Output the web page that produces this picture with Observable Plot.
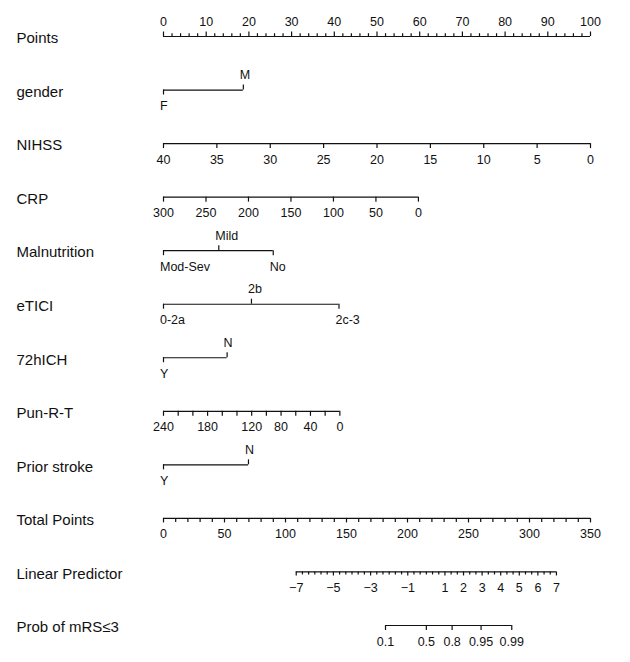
<!DOCTYPE html>
<html>
<head>
<meta charset="utf-8">
<script src="https://cdn.jsdelivr.net/npm/d3@7"></script>
<script src="https://cdn.jsdelivr.net/npm/@observablehq/plot@0.6"></script>
<style>
  body { margin: 0; background: #fff; }
  #chart svg { display: block; }
</style>
</head>
<body>
<div id="chart"></div>
<script>
// Nomogram for the probability of mRS ≤ 3
const rowLabels = ["Points", "gender", "NIHSS", "CRP", "Malnutrition", "eTICI", "72hICH",
  "Pun-R-T", "Prior stroke", "Total Points", "Linear Predictor", "Prob of mRS≤3"];

// Points scale (0–100)
const pointsLabels = [0, 10, 20, 30, 40, 50, 60, 70, 80, 90, 100];
const pointsMinor = d3.range(0, 101, 2);

// Continuous predictors: tick values, and the points at each end of the axis
const nihssTicks = [40, 35, 30, 25, 20, 15, 10, 5, 0];
const nihssEnds = [40, 0], nihssEndPoints = [0, 100];

const crpTicks = [300, 250, 200, 150, 100, 50, 0];
const crpEnds = [300, 0], crpEndPoints = [0, 59.7];

const punTicks = [240, 220, 200, 180, 160, 140, 120, 100, 80, 60, 40, 20, 0];
const punLabels = [240, 180, 120, 80, 40, 0];
const punEnds = [240, 0], punEndPoints = [0, 41.3];

// Categorical predictors: levels and their points
const genderLevels = ["F", "M"];
const genderPoints = [0, 18.7];
const malnutritionLevels = ["Mod-Sev", "Mild", "No"];
const malnutritionPoints = [0, 12.95, 25.7];
const eticiLevels = ["0-2a", "2b", "2c-3"];
const eticiPoints = [0, 20.6, 41.1];
const ichLevels = ["Y", "N"];
const ichPoints = [0, 14.9];
const priorLevels = ["Y", "N"];
const priorPoints = [0, 19.9];

// Total points, linear predictor and probability
const totalTicks = d3.range(0, 351, 10);
const totalLabels = [0, 50, 100, 150, 200, 250, 300, 350];
const totalEnds = [0, 350], totalEndPoints = [0, 100];

const lpTicks = d3.range(-21, 22).map(k => k / 3);
const lpLabels = [-7, -5, -3, -1, 1, 2, 3, 4, 5, 6, 7];
const lpEnds = [-7, 7], lpEndTotals = [108.8, 322.1];

const probLabels = [0.1, 0.5, 0.8, 0.95, 0.99];

// ---- build marks data ----
const rowPx = (625 - 36) / 11;          // pixel distance between rows
const px = v => v / rowPx;               // pixel length → row units
const fmt = v => String(v).replace("-", "\u2212");

const baselines = [];   // {row, x1, x2}
const ticks = [];       // {row, x, y2}
const labels = [];      // {row, x, text, above, cat}

function addContinuous(row, values, labelValues, toPoints, opts = {}) {
  const {above = false, majorLen = 5, minorLen = 5} = opts;
  const xs = values.map(toPoints);
  baselines.push({row, x1: d3.min(xs), x2: d3.max(xs)});
  const labelSet = new Set(labelValues);
  for (const v of values) {
    const len = labelSet.has(v) ? majorLen : minorLen;
    ticks.push({row, x: toPoints(v), y2: row + (above ? -px(len) : px(len))});
  }
  for (const v of labelValues) labels.push({row, x: toPoints(v), text: fmt(v), above, cat: false});
}

function addCategorical(row, levels, points) {
  baselines.push({row, x1: d3.min(points), x2: d3.max(points)});
  levels.forEach((lev, i) => {
    const above = i % 2 === 1;
    ticks.push({row, x: points[i], y2: row + (above ? -px(5) : px(5))});
    labels.push({row, x: points[i], text: lev, above, cat: true});
  });
}

addContinuous(0, pointsMinor, pointsLabels, v => v, {above: true, majorLen: 4.5, minorLen: 2.8});
addCategorical(1, genderLevels, genderPoints);
addContinuous(2, nihssTicks, nihssTicks, d3.scaleLinear(nihssEnds, nihssEndPoints));
addContinuous(3, crpTicks, crpTicks, d3.scaleLinear(crpEnds, crpEndPoints));
addCategorical(4, malnutritionLevels, malnutritionPoints);
addCategorical(5, eticiLevels, eticiPoints);
addCategorical(6, ichLevels, ichPoints);
addContinuous(7, punTicks, punLabels, d3.scaleLinear(punEnds, punEndPoints));
addCategorical(8, priorLevels, priorPoints);

const totalToPoints = d3.scaleLinear(totalEnds, totalEndPoints);
addContinuous(9, totalTicks, totalLabels, totalToPoints, {majorLen: 4.5, minorLen: 4});

const lpToTotal = d3.scaleLinear(lpEnds, lpEndTotals);
const lpToPoints = v => totalToPoints(lpToTotal(v));
addContinuous(10, lpTicks, lpLabels, lpToPoints, {majorLen: 4, minorLen: 3});

const probToPoints = p => lpToPoints(Math.log(p / (1 - p)));
addContinuous(11, probLabels, probLabels, probToPoints, {majorLen: 5});

const rows = rowLabels.map((label, row) => ({label, row}));

const font = "'Liberation Sans', Arial, Helvetica, sans-serif";
const ink = "#111";

const labelMark = (above, cat) => Plot.text(labels, {
  filter: d => d.above === above && d.cat === cat,
  x: "x", y: "row", text: "text",
  fontSize: 12.5, fill: ink,
  textAnchor: cat ? "start" : "middle",
  dx: cat ? -3.5 : 0,
  dy: above ? -15 : 16
});

const chart = Plot.plot({
  width: 630,
  height: 662,
  margin: 0,
  style: {fontFamily: font, background: "#fff", color: ink, overflow: "visible"},
  x: {domain: [0, 100], range: [163, 590], axis: null},
  y: {domain: [0, 11], range: [36, 625], axis: null},
  marks: [
    Plot.ruleY(baselines, {y: "row", x1: "x1", x2: "x2", stroke: ink, strokeWidth: 1.2}),
    Plot.ruleX(ticks, {x: "x", y1: "row", y2: "y2", stroke: ink, strokeWidth: 1.2}),
    labelMark(true, false),
    labelMark(false, false),
    labelMark(true, true),
    labelMark(false, true),
    Plot.text(rows, {
      y: "row", text: "label", frameAnchor: "left", textAnchor: "start",
      dx: 16, dy: 2, fontSize: 15, fill: ink
    })
  ]
});

document.getElementById("chart").append(chart);
</script>
</body>
</html>
